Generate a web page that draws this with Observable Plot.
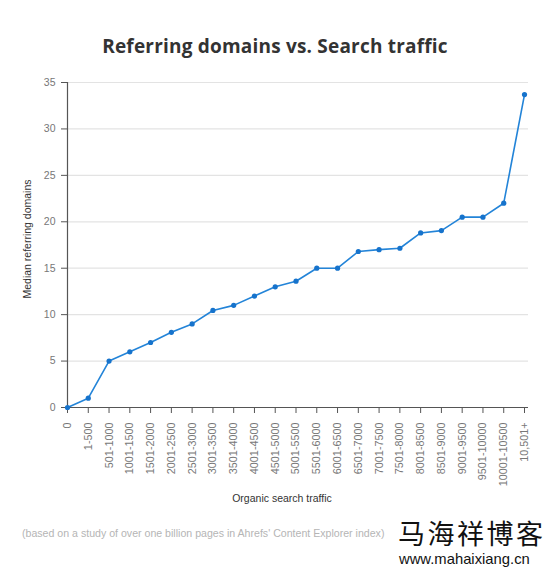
<!DOCTYPE html>
<html>
<head>
<meta charset="utf-8">
<script src="https://cdn.jsdelivr.net/npm/d3@7"></script>
<script src="https://cdn.jsdelivr.net/npm/@observablehq/plot@0.6"></script>
<style>
  body { margin: 0; background: #fff; }
  #wrap { position: relative; width: 550px; height: 576px; overflow: hidden; font-family: "Liberation Sans", Arial, sans-serif; }
  #title { position: absolute; left: 0; top: 33px; width: 550px; text-align: center; font: bold 19px "Open Sans", "Liberation Sans", sans-serif; color: #333; letter-spacing: 0.2px; }
  #chart { position: absolute; left: 0; top: 70px; }
  #caption { position: absolute; left: 22px; top: 527px; font-size: 10.6px; color: #b5b5b5; white-space: nowrap; }
  #wm1 { position: absolute; left: 398px; top: 513px; font: 27px "Noto Sans CJK SC", sans-serif; color: #111; letter-spacing: 2.5px; line-height: 40px; white-space: nowrap; }
  #wm2 { position: absolute; left: 399px; top: 551px; font: 14.8px "Liberation Sans", Arial, sans-serif; color: #111; white-space: nowrap; }
  #chart svg g[aria-label="x-axis tick label"], #chart svg g[aria-label="y-axis tick label"] { fill: #777; }
</style>
</head>
<body>
<div id="wrap">
  <div id="title">Referring domains vs. Search traffic</div>
  <div id="chart"></div>
  <div id="caption">(based on a study of over one billion pages in Ahrefs' Content Explorer index)</div>
  <div id="wm1">马海祥博客</div>
  <div id="wm2">www.mahaixiang.cn</div>
</div>
<script>
const categories = ["0", "1-500", "501-1000", "1001-1500", "1501-2000", "2001-2500", "2501-3000", "3001-3500", "3501-4000", "4001-4500", "4501-5000", "5001-5500", "5501-6000", "6001-6500", "6501-7000", "7001-7500", "7501-8000", "8001-8500", "8501-9000", "9001-9500", "9501-10000", "10001-10500", "10,501+"];
const medianDomains = [0, 1, 5, 6, 7, 8.1, 9, 10.45, 11, 12, 13, 13.6, 15, 15, 16.8, 17, 17.15, 18.8, 19.05, 20.5, 20.5, 22, 33.7];
const yTicks = [0, 5, 10, 15, 20, 25, 30, 35];
const xLabel = "Organic search traffic";
const yLabel = "Median referring domains";

const data = categories.map((c, i) => ({category: c, value: medianDomains[i]}));
const lineColor = "#2384d8";

const chart = Plot.plot({
  width: 550,
  height: 440,
  marginTop: 12,
  marginBottom: 103,
  marginLeft: 67,
  marginRight: 22,
  style: {fontFamily: "'Liberation Sans', Arial, sans-serif", fontSize: "10.5px", color: "#555", background: "transparent"},
  x: {type: "point", domain: categories, padding: 0, round: false, insetRight: 4},
  y: {domain: [0, 35]},
  marks: [
    Plot.ruleY(yTicks.filter(d => d > 0), {stroke: "#e3e3e3", strokeWidth: 1.2}),
    Plot.axisY({ticks: yTicks, tickSize: 6, tickPadding: 6, label: null, stroke: "#555"}),
    Plot.axisX({tickSize: 6, tickPadding: 9, tickRotate: -90, label: null, stroke: "#555", fontSize: 10.8}),
    Plot.ruleY([0], {stroke: "#555", strokeWidth: 1.2}),
    Plot.frame({anchor: "left", stroke: "#555", strokeWidth: 1.2}),
    Plot.line(data, {x: "category", y: "value", stroke: lineColor, strokeWidth: 1.6}),
    Plot.dot(data, {x: "category", y: "value", r: 2.6, fill: "#1673cc", stroke: null}),
    Plot.text([xLabel], {frameAnchor: "bottom", dx: -16, dy: 94, lineAnchor: "bottom", fill: "#333", fontSize: 10.5, fontWeight: 500}),
    Plot.text([yLabel], {frameAnchor: "left", textAnchor: "middle", rotate: -90, dx: -40, dy: -6, fill: "#333", fontSize: 10.5})
  ]
});
document.getElementById("chart").appendChild(chart);
</script>
</body>
</html>
